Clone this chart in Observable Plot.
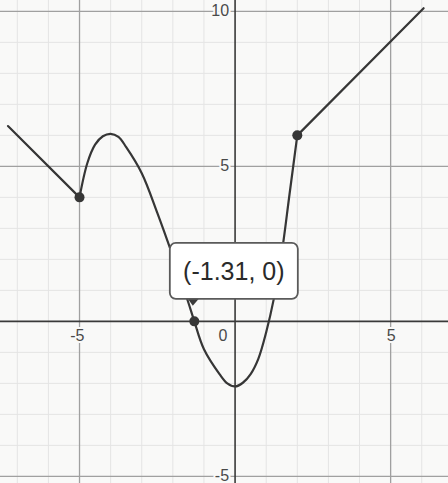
<!DOCTYPE html>
<html>
<head>
<meta charset="utf-8">
<script src="https://cdn.jsdelivr.net/npm/d3@7"></script>
<script src="https://cdn.jsdelivr.net/npm/@observablehq/plot@0.6"></script>
<style>
  html, body { margin: 0; padding: 0; background: #f9f9f8; }
  #chart svg { display: block; }
</style>
</head>
<body>
<div id="chart"></div>
<script>
// Piecewise function: left ray (x < -5)
const leftX = [-7.3, -5];
const leftY = [6.3, 4];

// Middle piece (-5 <= x <= 2)
const midX = [-5, -4.75, -4.5, -4.25, -4, -3.75, -3.5, -3, -2.5, -2, -1.5, -1.31, -1, -0.5, -0.25, 0, 0.25, 0.5, 0.75, 1, 1.25, 1.5, 1.75, 2];
const midY = [4, 5.1, 5.7, 5.97, 6.05, 5.95, 5.62, 4.78, 3.5, 2.1, 0.6, 0, -0.9, -1.7, -2.0, -2.1, -1.98, -1.7, -1.2, -0.35, 0.75, 2.2, 4.1, 6];

// Right ray (x > 2)
const rightX = [2, 6.06];
const rightY = [6, 10.1];

// Marked points on the graph
const pointX = [-5, 2, -1.31];
const pointY = [4, 6, 0];

// Highlighted zero
const zeroX = -1.31;
const zeroY = 0;

// Grid lines and tick labels
const xMinor = [-7, -6, -4, -3, -2, -1, 1, 2, 3, 4, 6];
const yMinor = [-4, -3, -2, -1, 1, 2, 3, 4, 6, 7, 8, 9];
const xMajor = [-5, 5];
const yMajor = [-5, 5, 10];
const xTickLabels = [-5, 5];
const yTickLabels = [-5, 5, 10];

const toRows = (xs, ys) => xs.map((x, i) => ({x, y: ys[i]}));
const leftRows = toRows(leftX, leftY);
const midRows = toRows(midX, midY);
const rightRows = toRows(rightX, rightY);
const pointRows = toRows(pointX, pointY);

const ink = "#363636";
const paper = "#f9f9f8";
const labelStyle = {fontSize: 16, fill: "#4a4a4a", stroke: paper, strokeWidth: 4, paintOrder: "stroke"};

// Coordinate callout drawn next to the highlighted zero
function callout(index, scales) {
  const px = scales.x(zeroX), py = scales.y(zeroY);
  const bw = 128, bh = 56;
  const bx = px - 24, by = py - 78;
  const g = d3.create("svg:g");
  g.append("path")
    .attr("d", `M${px - 6},${by + bh}L${px + 5},${by + bh}L${px - 1},${by + bh + 7}Z`)
    .attr("fill", "#3a3a3a");
  g.append("rect")
    .attr("x", bx).attr("y", by)
    .attr("width", bw).attr("height", bh)
    .attr("rx", 6).attr("ry", 6)
    .attr("fill", "#ffffff")
    .attr("stroke", "#5a5a5a")
    .attr("stroke-width", 1.8);
  g.append("text")
    .attr("x", bx + bw / 2).attr("y", by + bh / 2)
    .attr("dy", "0.36em")
    .attr("text-anchor", "middle")
    .attr("font-family", "'Liberation Sans', Arial, sans-serif")
    .attr("font-size", 25)
    .attr("fill", "#2a2a2a")
    .text(`(${zeroX}, ${zeroY})`);
  return g.node();
}

const chart = Plot.plot({
  width: 448,
  height: 483,
  margin: 0,
  x: {domain: [-7.54, 6.86], axis: null},
  y: {domain: [-5.23, 10.35], axis: null},
  style: {background: paper, fontFamily: "'Liberation Sans', Arial, sans-serif"},
  marks: [
    Plot.ruleX(xMinor, {stroke: "#e4e4e4", strokeWidth: 1}),
    Plot.ruleY(yMinor, {stroke: "#e4e4e4", strokeWidth: 1}),
    Plot.ruleX(xMajor, {stroke: "#a0a0a0", strokeWidth: 1.3}),
    Plot.ruleY(yMajor, {stroke: "#a0a0a0", strokeWidth: 1.3}),
    Plot.ruleX([0], {stroke: "#3a3a3a", strokeWidth: 1.6}),
    Plot.ruleY([0], {stroke: "#3a3a3a", strokeWidth: 1.6}),
    Plot.text(xTickLabels, {x: d => d, y: 0, text: d => String(d), dx: 5, dy: 15, textAnchor: "end", ...labelStyle}),
    Plot.text(yTickLabels, {x: 0, y: d => d, text: d => String(d), dx: -6, textAnchor: "end", ...labelStyle}),
    Plot.text([0], {x: 0, y: 0, text: d => String(d), dx: -12, dy: 15, ...labelStyle}),
    Plot.line(leftRows, {x: "x", y: "y", stroke: ink, strokeWidth: 2.2}),
    Plot.line(midRows, {x: "x", y: "y", stroke: ink, strokeWidth: 2.2, curve: "catmull-rom"}),
    Plot.line(rightRows, {x: "x", y: "y", stroke: ink, strokeWidth: 2.2}),
    Plot.dot(pointRows, {x: "x", y: "y", r: 5, fill: ink}),
    callout
  ]
});

document.getElementById("chart").appendChild(chart);
</script>
</body>
</html>
